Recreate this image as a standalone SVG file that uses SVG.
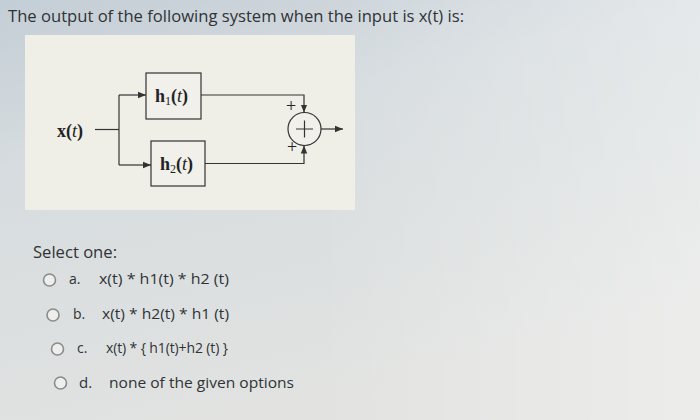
<svg xmlns="http://www.w3.org/2000/svg" width="700" height="420" viewBox="0 0 700 420">
<defs>
<linearGradient id="bg" x1="0" y1="0" x2="0.4" y2="1">
<stop offset="0" stop-color="#c4ced6"/>
<stop offset="0.35" stop-color="#d6dcdf"/>
<stop offset="1" stop-color="#e2e3e1"/>
</linearGradient>
<linearGradient id="bg2" x1="0" y1="0" x2="1" y2="0">
<stop offset="0.45" stop-color="#ffffff" stop-opacity="0"/>
<stop offset="1" stop-color="#ffffff" stop-opacity="0.35"/>
</linearGradient>
<marker id="arr" viewBox="0 0 10 10" refX="10" refY="5" markerWidth="8" markerHeight="8" markerUnits="userSpaceOnUse" orient="auto">
<path d="M0,1 L10,5 L0,9 z" fill="#333"/>
</marker>
<style>
.q{font-family:"Open Sans","Liberation Sans",sans-serif;fill:#2f3336}
.m{font-family:"Liberation Serif","DejaVu Serif",serif;font-size:18px;fill:#222}
.b{font-weight:bold}
.ln{fill:none;stroke:#333;stroke-width:1.2}
.box{fill:#f1f0ea;stroke:#333;stroke-width:1.2}
.rad{fill:#eeeeec;stroke:#8a8c8c;stroke-width:1.6}
.opt{font-size:14px}
</style>
</defs>
<rect width="700" height="420" fill="url(#bg)"/>
<rect width="700" height="420" fill="url(#bg2)"/>
<text class="q" x="8" y="22" font-size="17" textLength="456" lengthAdjust="spacingAndGlyphs">The output of the following system when the input is x(t) is:</text>
<rect x="25" y="35" width="330" height="175" fill="#efeee7"/>
<g id="input">
<text class="m" x="57" y="137"><tspan class="b">x(</tspan><tspan font-style="italic">t</tspan><tspan class="b">)</tspan></text>
</g>
<g id="h1">
<rect class="box" x="146" y="73" width="55" height="46"/>
<text class="m" x="155" y="102"><tspan class="b">h</tspan><tspan font-size="12" dy="3">1</tspan><tspan class="b" dy="-3">(</tspan><tspan font-style="italic">t</tspan><tspan class="b">)</tspan></text>
</g>
<g id="h2">
<rect class="box" x="151" y="141" width="54" height="45"/>
<text class="m" x="160" y="170"><tspan class="b">h</tspan><tspan font-size="12" dy="3">2</tspan><tspan class="b" dy="-3">(</tspan><tspan font-style="italic">t</tspan><tspan class="b">)</tspan></text>
</g>
<g id="sum">
<circle cx="304.5" cy="129" r="16.5" fill="#f1f0ea" stroke="#333" stroke-width="1.2"/>
<path class="ln" d="M296,129 H313 M304.5,120.5 V137.5"/>
<text class="m" x="286" y="112" font-size="15">+</text>
<text class="m" x="287" y="153" font-size="15">+</text>
</g>
<g id="connectors">
<path class="ln" d="M95,129.5 H119"/>
<path class="ln" d="M119,95 V165"/>
<path class="ln" d="M119,95 H146" marker-end="url(#arr)"/>
<path class="ln" d="M119,165 H151" marker-end="url(#arr)"/>
<path class="ln" d="M201,95 H304 V112.5" marker-end="url(#arr)"/>
<path class="ln" d="M205,163.5 H304 V145.5" marker-end="url(#arr)"/>
<path class="ln" d="M321,129 H343" marker-end="url(#arr)"/>
</g>
<text class="q" x="33" y="258" font-size="16" textLength="84" lengthAdjust="spacingAndGlyphs">Select one:</text>
<circle class="rad" cx="49.5" cy="280" r="6"/>
<text class="q opt" x="69" y="284">a.</text>
<text class="q opt" x="99" y="284" textLength="130" lengthAdjust="spacingAndGlyphs">x(t) * h1(t) * h2 (t)</text>
<circle class="rad" cx="53" cy="315" r="6"/>
<text class="q opt" x="73" y="319">b.</text>
<text class="q opt" x="102" y="319" textLength="127" lengthAdjust="spacingAndGlyphs">x(t) * h2(t) * h1 (t)</text>
<circle class="rad" cx="57.5" cy="349" r="6"/>
<text class="q opt" x="77" y="353">c.</text>
<text class="q opt" x="106" y="353" textLength="122" lengthAdjust="spacing">x(t) * { h1(t)+h2 (t) }</text>
<circle class="rad" cx="60.5" cy="383" r="6"/>
<text class="q" x="79" y="388" font-size="15">d.</text>
<text class="q" x="109" y="388" font-size="15" textLength="185" lengthAdjust="spacingAndGlyphs">none of the given options</text>
</svg>
